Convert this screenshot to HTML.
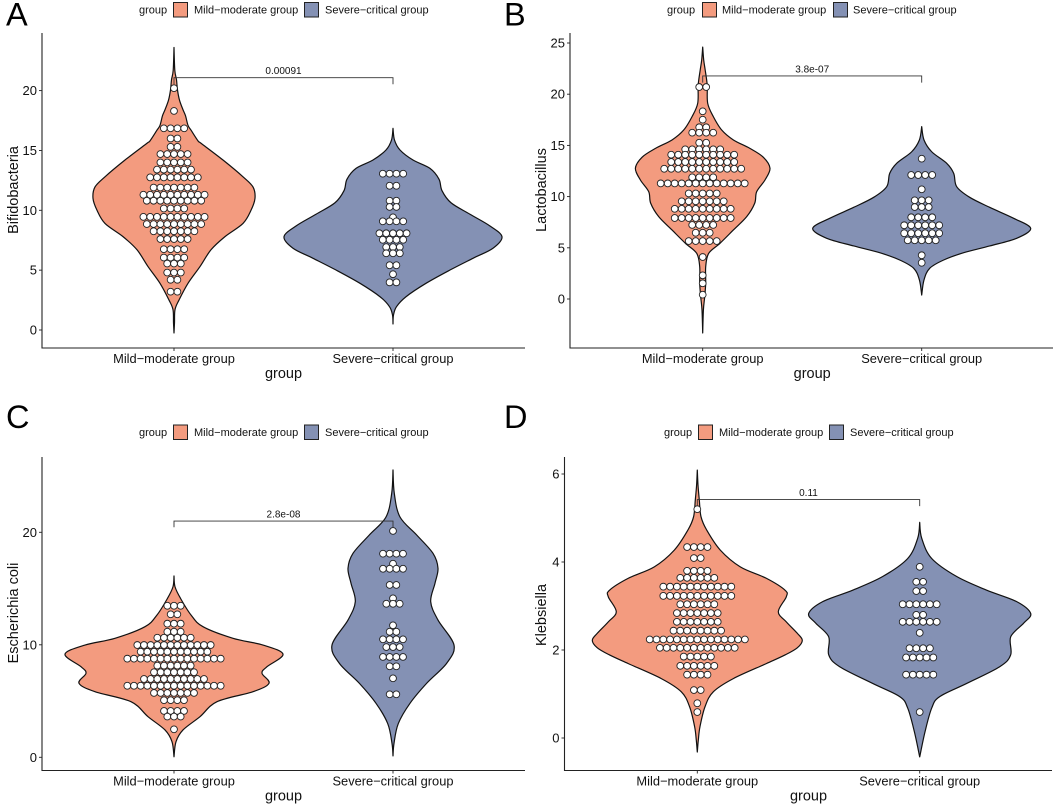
<!DOCTYPE html>
<html lang="en">
<head>
<meta charset="utf-8">
<title>Violin dot plots of gut bacteria by group</title>
<style>
html,body{margin:0;padding:0;background:#fff;width:1055px;height:811px;overflow:hidden}
svg{display:block;font-family:"Liberation Sans",Arial,sans-serif}
</style>
</head>
<body>
<svg id="figure" xmlns="http://www.w3.org/2000/svg" width="1055" height="811" viewBox="0 0 1055 811"></svg>
<script>
const categories = ['Mild\u2212moderate group', 'Severe\u2212critical group'];
const seriesColors = ['#F39B7F', '#8491B4'];

const aTicks = [0, 5, 10, 15, 20];
const bTicks = [0, 5, 10, 15, 20, 25];
const cTicks = [0, 10, 20];
const dTicks = [0, 2, 4, 6];

// Panel A
const aMildGrid = [23.6,21.7,20.9,20.05,19.2,18.4,17.9,17.1,16.7,15.8,15.6,14.2,12.8,11.95,11.0,10.0,8.9,7.8,6.7,5.3,3.9,2.5,1.7,0.6,-0.25];
const aMildDensity = [0,0.8,2.5,3.5,5.5,9,11.5,14,17,24,27,49,69,79,81,77,69,51,37,26,14,5,1,0.5,0];
const aMildDots = [20.2,18.3,16.85,16.0,15.3,14.7,14.0,13.4,12.75,11.9,11.3,10.8,10.15,9.45,8.85,8.25,7.6,6.75,6.05,5.55,4.8,4.2,3.2];
const aMildCounts = [1,1,4,2,2,5,5,6,8,7,10,9,4,10,9,7,5,4,4,3,3,2,2];
const aSevereGrid = [16.85,15.87,15.04,14.2,13.5,12.6,11.64,10.63,9.67,8.69,7.79,6.83,5.99,5.01,3.9,2.78,1.95,1.25,0.5];
const aSevereDensity = [0,1.5,7,20,37,46,49,58,77,97,109,100,80,57,33,13,3.5,0.5,0];
const aSevereDots = [13.06,12.05,10.8,10.28,9.41,9.08,8.08,7.54,6.93,6.41,5.41,4.66,3.98];
const aSevereCounts = [4,2,2,2,1,4,5,4,3,3,2,1,2];

// Panel B
const bMildGrid = [24.6,23.34,22.36,20.9,19.11,17.8,16.5,15.53,14.72,13.84,12.76,11.62,10.48,9.35,8.04,6.74,5.44,4.46,3.15,1.53,0.22,-1.07,-3.32];
const bMildDensity = [0,1,2.5,4.5,5,10.7,19,30.7,47,60.7,67.3,62.3,54,52,44,30.7,17.3,6,3,3,2,0.7,0];
const bMildDots = [20.7,18.33,17.51,16.77,16.24,15.26,14.62,14.09,13.38,12.72,11.88,11.29,10.31,9.54,8.81,7.91,7.23,6.47,5.66,4.1,2.31,1.53,0.42];
const bMildCounts = [2,1,1,2,4,2,6,10,10,12,4,13,5,7,9,9,4,3,5,1,1,1,1];
const bSevereGrid = [16.83,15.53,14.38,13.25,12.27,10.97,9.93,8.95,7.88,6.9,5.93,5.18,4.52,3.81,3.0,1.86,0.39];
const bSevereDensity = [0,2.3,10,25,32,35,48,68,92,109,95,68,42,22,8,2.3,0];
const bSevereDots = [13.7,12.11,10.71,9.64,8.98,7.98,7.2,6.42,5.73,4.27,3.54];
const bSevereCounts = [1,4,1,3,3,4,6,6,5,1,1];

// Panel C
const cMildGrid = [16.12,15.16,14.13,12.65,11.61,10.58,9.98,9.16,8.05,7.47,6.58,5.83,4.94,3.61,2.43,1.39,0.05];
const cMildDensity = [0,1,6.5,17,29,59,89,109,93,88,95,79,43,26,9,2,0];
const cMildDots = [13.47,12.71,11.88,11.16,10.63,9.98,9.39,8.77,8.15,7.56,6.96,6.36,5.72,5.08,4.12,3.62,2.49];
const cMildCounts = [3,2,3,3,6,12,11,15,6,7,10,15,7,4,4,3,1];
const cSevereGrid = [25.54,23.46,21.36,19.76,18.13,16.8,15.47,13.83,12.2,9.98,8.36,6.58,4.8,3.0,1.24,0.12];
const cSevereDensity = [0,1.3,7,23.7,40,45,42,37.7,45,61,53.7,33.7,17,5.3,1,0];
const cSevereDots = [20.12,18.1,17.21,16.76,15.32,14.13,13.65,11.73,11.16,10.49,9.8,8.92,8.09,7.02,5.6];
const cSevereCounts = [1,4,1,4,2,1,3,1,2,4,3,4,2,1,2];

// Panel D
const dMildGrid = [6.09,5.75,5.41,5.03,4.73,4.27,3.89,3.63,3.36,3.21,2.87,2.64,2.38,2.22,2.05,1.89,1.69,1.35,1.05,0.71,0.26,-0.05,-0.32];
const dMildDensity = [0,0.7,2,3.7,9.3,23,43,69,87.7,89,81,89,100,105,100,88,69,36,16,7.7,2.7,1,0];
const dMildDots = [5.2,4.34,4.09,3.8,3.64,3.44,3.23,3.04,2.84,2.64,2.44,2.24,2.05,1.85,1.64,1.44,1.09,0.79,0.59];
const dMildCounts = [1,4,2,4,6,11,11,6,7,7,8,15,12,5,6,4,2,1,1];
const dSevereGrid = [4.9,4.54,4.08,3.67,3.36,3.1,2.83,2.61,2.3,1.89,1.62,1.24,0.94,0.68,0.14,-0.43];
const dSevereDensity = [0,2,12,37,67,97,111,104,91,91,80,47,20,12,5.3,0];
const dSevereDots = [3.89,3.55,3.34,3.04,2.8,2.64,2.39,2.04,1.83,1.44,0.59];
const dSevereCounts = [1,2,2,6,2,6,1,4,5,5,1];

// Significance brackets: height in axis units and printed p-value
const bracketHeights = [21.08, 21.78, 21.0, 5.42];
const bracketDrops = [0.55, 0.65, 0.55, 0.15];
const pLabels = ['0.00091', '3.8e-07', '2.8e-08', '0.11'];

const panels = [
  {id:'a', letter:'A', title:'Bifidobacteria', ticks:aTicks, axisX:42, top:33, bottom:348, right:525, px0:330, pxPer:11.97,
   centers:[174,393], step:6.8, letterY:25.5, letterX:6, titleX:18, titleY:190, legendY:9.5, leg:[139,173,194,304,325],
   series:[[aMildGrid,aMildDensity,aMildDots,aMildCounts],[aSevereGrid,aSevereDensity,aSevereDots,aSevereCounts]]},
  {id:'b', letter:'B', title:'Lactobacillus', ticks:bTicks, axisX:570, top:33, bottom:348, right:1053, px0:299, pxPer:10.24,
   centers:[702.7,921.7], step:7, letterY:25.5, letterX:504, titleX:546, titleY:190, legendY:9.5, leg:[667,702,722,833,853],
   series:[[bMildGrid,bMildDensity,bMildDots,bMildCounts],[bSevereGrid,bSevereDensity,bSevereDots,bSevereCounts]]},
  {id:'c', letter:'C', title:'Escherichia coli', ticks:cTicks, axisX:42, top:457, bottom:770.5, right:525, px0:757.3, pxPer:11.25,
   centers:[174,393], step:6.67, letterY:428, letterX:6, titleX:18, titleY:613, legendY:432, leg:[139,173,194,304,325],
   series:[[cMildGrid,cMildDensity,cMildDots,cMildCounts],[cSevereGrid,cSevereDensity,cSevereDots,cSevereCounts]]},
  {id:'d', letter:'D', title:'Klebsiella', ticks:dTicks, axisX:564.5, top:457, bottom:770.5, right:1052, px0:738, pxPer:44,
   centers:[697.3,919.7], step:6.8, letterY:428, letterX:504, titleX:546, titleY:615, legendY:432, leg:[664,698,719,829,850],
   series:[[dMildGrid,dMildDensity,dMildDots,dMildCounts],[dSevereGrid,dSevereDensity,dSevereDots,dSevereCounts]]}
];

const svg = document.getElementById('figure');
const NS = 'http://www.w3.org/2000/svg';

function make(parent, tag, attrs, text) {
  const el = document.createElementNS(NS, tag);
  for (const k in attrs) el.setAttribute(k, attrs[k]);
  if (text !== undefined) el.textContent = text;
  parent.appendChild(el);
  return el;
}

function smoothSide(points, first) {
  let d = first ? 'M' + points[0][0].toFixed(2) + ' ' + points[0][1].toFixed(2) : '';
  for (let i = 0; i < points.length - 1; i++) {
    const p0 = points[Math.max(i - 1, 0)], p1 = points[i], p2 = points[i + 1], p3 = points[Math.min(i + 2, points.length - 1)];
    const c1x = p1[0] + (p2[0] - p0[0]) / 6, c1y = p1[1] + (p2[1] - p0[1]) / 6;
    const c2x = p2[0] - (p3[0] - p1[0]) / 6, c2y = p2[1] - (p3[1] - p1[1]) / 6;
    d += 'C' + c1x.toFixed(2) + ' ' + c1y.toFixed(2) + ' ' + c2x.toFixed(2) + ' ' + c2y.toFixed(2) + ' ' + p2[0].toFixed(2) + ' ' + p2[1].toFixed(2);
  }
  return d;
}

panels.forEach(function (p, pi) {
  const yScale = function (v) { return p.px0 - v * p.pxPer; };
  const widthScale = function (d) { return d; };

  const g = make(svg, 'g', {});
  
  

  const letter = make(g, 'text', {x:p.letterX, y:p.letterY, 'font-size':32.5, fill:'#000'}, p.letter);
  
  

  // Legend
  const legendTitle = make(g, 'text', {x:p.leg[0], y:p.legendY + 3.8, 'font-size':11, fill:'#111'}, 'group');
  
  
  categories.forEach(function (cat, ci) {
    const sx = p.leg[1 + ci * 2], tx = p.leg[2 + ci * 2];
    const swatch = make(g, 'rect', {x:sx + 0.5, y:p.legendY - 7, width:14, height:14.5, fill:seriesColors[ci], stroke:'#222', 'stroke-width':1});
    
    
    const label = make(g, 'text', {x:tx, y:p.legendY + 3.8, 'font-size':11, fill:'#111'}, cat);
    
    
  });

  // Violins
  p.series.forEach(function (s, si) {
    const cx = p.centers[si];
    const grid = s[0], density = s[1];
    const right = grid.map(function (v, i) { return [cx + widthScale(density[i]), yScale(v)]; });
    const left = grid.map(function (v, i) { return [cx - widthScale(density[i]), yScale(v)]; }).reverse();
    const d = smoothSide(right, true) + smoothSide(left, false) + 'Z';
    const violin = make(g, 'path', {d:d, fill:seriesColors[si], stroke:'#111', 'stroke-width':1.2, 'stroke-linejoin':'round'});
    
    
  });

  // Dots
  p.series.forEach(function (s, si) {
    const cx = p.centers[si];
    const values = s[2], counts = s[3];
    values.forEach(function (v, r) {
      for (let i = 0; i < counts[r]; i++) {
        const dot = make(g, 'circle', {cx:(cx + (i - (counts[r] - 1) / 2) * p.step).toFixed(2), cy:yScale(v).toFixed(2), r:3.4, fill:'#fff', stroke:'#222', 'stroke-width':0.9});
        
        
      }
    });
  });

  // Significance bracket
  const by = yScale(bracketHeights[pi]), drop = bracketDrops[pi] * p.pxPer;
  const bracket = make(g, 'path', {d:'M' + p.centers[0] + ' ' + (by + drop) + 'V' + by + 'H' + p.centers[1] + 'V' + (by + drop), fill:'none', stroke:'#333', 'stroke-width':0.9});
  
  
  const pText = make(g, 'text', {x:(p.centers[0] + p.centers[1]) / 2, y:by - 3.6, 'font-size':10, 'text-anchor':'middle', fill:'#111'}, pLabels[pi]);
  
  

  // Axes
  const axes = make(g, 'path', {d:'M' + p.axisX + ' ' + p.top + 'V' + p.bottom + 'H' + p.right, fill:'none', stroke:'#222', 'stroke-width':1.1});
  
  

  p.ticks.forEach(function (t) {
    const ty = yScale(t);
    const tick = make(g, 'line', {x1:p.axisX - 3, x2:p.axisX, y1:ty, y2:ty, stroke:'#222', 'stroke-width':0.9});
    
    
    const lab = make(g, 'text', {x:p.axisX - 5, y:ty + 4.5, 'font-size':13, 'text-anchor':'end', fill:'#111'}, String(t));
    
    
  });

  categories.forEach(function (cat, ci) {
    const tick = make(g, 'line', {x1:p.centers[ci], x2:p.centers[ci], y1:p.bottom, y2:p.bottom + 3, stroke:'#222', 'stroke-width':0.9});
    
    
    const lab = make(g, 'text', {x:p.centers[ci], y:p.bottom + 15, 'font-size':12.85, 'text-anchor':'middle', fill:'#111'}, cat);
    
    
  });

  const xTitle = make(g, 'text', {x:(p.centers[0] + p.centers[1]) / 2, y:p.bottom + 30, 'font-size':14.5, 'text-anchor':'middle', fill:'#111'}, 'group');
  
  

  const yTitle = make(g, 'text', {x:p.titleX, y:p.titleY, 'font-size':14.5, 'text-anchor':'middle', fill:'#111', transform:'rotate(-90 ' + p.titleX + ' ' + p.titleY + ')'}, p.title);
  
  
});
</script>
</body>
</html>
